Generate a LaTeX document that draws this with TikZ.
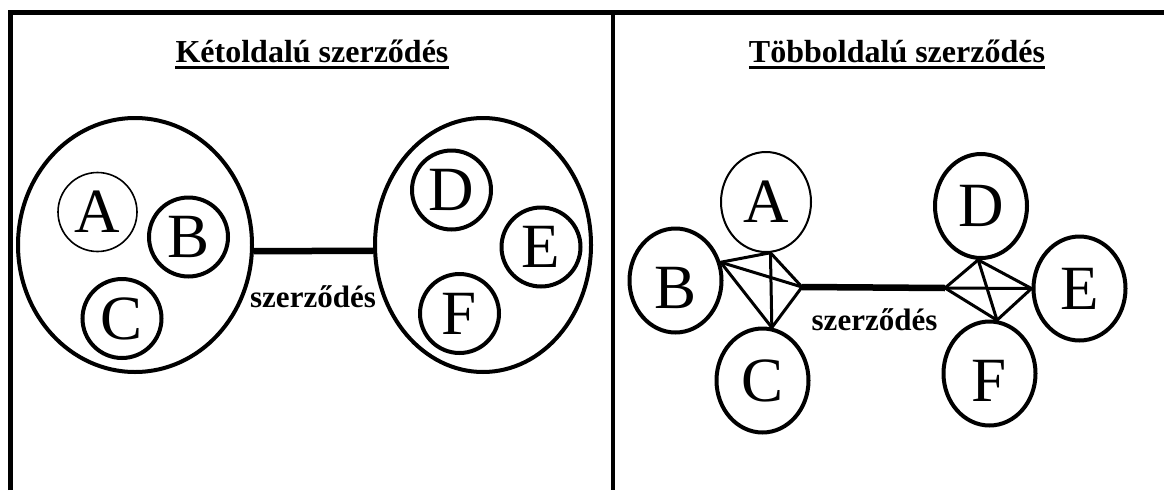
\documentclass[tikz,border=0pt]{standalone}
\usepackage{fontspec}
\setmainfont{Liberation Serif}
\usetikzlibrary{shapes.geometric}
\newcommand{\dropletter}[2]{\raisebox{-#1}[\height][\depth]{#2}}
\tikzset{
  frame/.style={line width=5pt, line join=miter},
  divider/.style={line width=4pt},
  big/.style={ellipse, draw, line width=4pt, inner sep=0pt},
  pcirc/.style={circle, draw, line width=4pt, minimum size=79pt, inner sep=0pt, font=\fontsize{63}{70}\selectfont},
  pthin/.style={pcirc, line width=1.6pt},
  pell/.style={ellipse, draw, line width=4pt, minimum width=92pt, minimum height=104pt, inner sep=0pt, font=\fontsize{63}{70}\selectfont},
  pellthin/.style={pell, line width=2pt, minimum width=90pt, minimum height=100pt},
  ttl/.style={font=\bfseries\fontsize{32}{38}\selectfont, inner sep=0pt, anchor=base},
  lbl/.style={font=\bfseries\fontsize{31}{36}\selectfont, inner sep=0pt, anchor=base},
  uline/.style={line width=3.5pt},
  contract/.style={line width=6.5pt},
  link/.style={line width=3pt, line cap=round},
}
\begin{document}
\begin{tikzpicture}[x=1pt,y=-1pt]
\useasboundingbox (0,0) rectangle (1164,490);
\fill[white] (0,0) rectangle (1164,490);
% frame
\draw[frame] (10,490) -- (10,12) -- (1164,12);
\draw[divider] (613,12) -- (613,490);
% titles
\node[ttl] (T1) at (312,62) {Kétoldalú szerződés};
\draw[uline] ([yshift=-5.5pt]T1.base west) -- ([yshift=-5.5pt]T1.base east);
\node[ttl] (T2) at (897,62) {Többoldalú szerződés};
\draw[uline] ([yshift=-5.5pt]T2.base west) -- ([yshift=-5.5pt]T2.base east);
% left panel
\node[big, minimum width=234pt, minimum height=254pt] (L) at (135,245) {};
\node[big, minimum width=216pt, minimum height=254pt] (R) at (483,245) {};
\node[pthin] (A1) at (97.5,212) {A};
\node[pcirc] (B1) at (188.5,237) {B};
\node[pcirc] (C1) at (122,318.5) {C};
\node[pcirc] (D1) at (451.5,190) {D};
\node[pcirc] (E1) at (541,247) {E};
\node[pcirc] (F1) at (459.5,313.5) {F};
\draw[contract] (L.-3.5) -- (R.183.5);
\node[lbl] (s1) at (313,307) {szerződés};
% right panel
\node[pellthin] (A2) at (766,202) {A};
\node[pell] (B2) at (675.5,280.5) {\dropletter{7pt}{B}};
\node[pell] (C2) at (762.5,380.5) {C};
\node[pell] (D2) at (981,206) {D};
\node[pell] (E2) at (1079.5,288.5) {E};
\node[pell] (F2) at (989.5,373.5) {\dropletter{7pt}{F}};
\coordinate (h1) at (802,287);
\coordinate (h2) at (945,288);
\draw[link] (B2.22.6) -- (A2.-85);
\draw[link] (B2.22.6) -- (h1);
\draw[link] (B2.22.6) -- (C2.80);
\draw[link] (A2.-85) -- (C2.80);
\draw[link] (A2.-85) -- (h1);
\draw[link] (C2.80) -- (h1);
\draw[link] (h2) -- (D2.-93);
\draw[link] (h2) -- (E2.west);
\draw[link] (h2) -- (F2.82);
\draw[link] (D2.-93) -- (E2.west);
\draw[link] (D2.-93) -- (F2.82);
\draw[link] (E2.west) -- (F2.82);
\draw[contract] (h1) -- (h2);
\node[lbl] (s2) at (874.5,330) {szerződés};
\end{tikzpicture}
\end{document}
